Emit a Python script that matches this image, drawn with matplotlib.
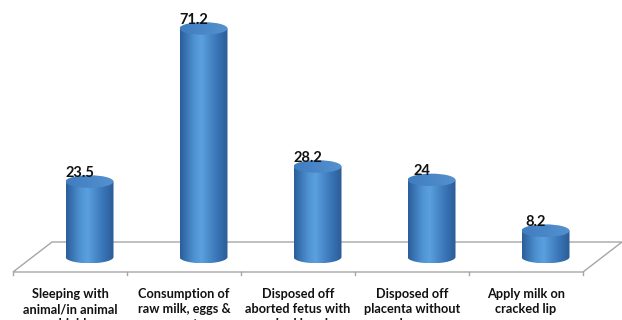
import numpy as np
import matplotlib.pyplot as plt
from matplotlib.patches import Polygon, Ellipse, PathPatch
from matplotlib.path import Path
from matplotlib.colors import LinearSegmentedColormap

categories = [
    "Sleeping with\nanimal/in animal\nshield",
    "Consumption of\nraw milk, eggs &\nmeat",
    "Disposed off\naborted fetus with\nnaked hands",
    "Disposed off\nplacenta without\ngloves",
    "Apply milk on\ncracked lip",
]
values = [23.5, 71.2, 28.2, 24, 8.2]

W, H = 622, 320
fig = plt.figure(figsize=(W / 100, H / 100), dpi=100)
ax = fig.add_axes([0, 0, 1, 1])

# pixel scale of one category slot / one value unit
sx, sy = 114.0, 3.21
x0_px, y0_px = 70.0, 272.0
n = len(values)

depth_x, depth_y = 39 / sx, 30 / sy
grey = "#a6a6a6"
fonts = ["Lato", "DejaVu Sans"]

# floor of the 3d chart
front_l, front_r = -0.5, n - 0.5
floor = [(front_l, 0), (front_r, 0), (front_r + depth_x, depth_y), (front_l + depth_x, depth_y)]
ax.add_patch(Polygon(floor, closed=True, fill=False, ec=grey, lw=1, zorder=1))
for i in range(n + 1):
    ax.plot([i - 0.5, i - 0.5], [0, -3 / sy], color=grey, lw=1, zorder=1)

body_cmap = LinearSegmentedColormap.from_list(
    "body", [(0, "#2a5d9a"), (0.3, "#4f93d3"), (0.45, "#5ba0de"), (0.75, "#3b78ba"), (1, "#2b5c97")])
top_cmap = LinearSegmentedColormap.from_list("top", ["#3f7dc0", "#5591cf"])
grad = np.linspace(0, 1, 256).reshape(1, -1)

cw = 24 / sx
eh = 6.3 / sy
for i, v in enumerate(values):
    cx = i + depth_x / 2
    yb = depth_y / 2
    yt = yb + v
    t = np.linspace(np.pi, 2 * np.pi, 60)
    verts = [(cx - cw, yt), (cx - cw, yb)]
    verts += list(zip(cx + cw * np.cos(t), yb + eh * np.sin(t)))
    verts += [(cx + cw, yt), (cx - cw, yt)]
    body = PathPatch(Path(verts, closed=True), fc="none", ec="none")
    ax.add_patch(body)
    im = ax.imshow(grad, extent=[cx - cw, cx + cw, yb - eh, yt], aspect="auto",
                   cmap=body_cmap, zorder=2, interpolation="bilinear")
    im.set_clip_path(body)

    top = Ellipse((cx, yt), 2 * cw, 2 * eh, fc="none", ec="none")
    ax.add_patch(top)
    im2 = ax.imshow(grad, extent=[cx - cw, cx + cw, yt - eh, yt + eh], aspect="auto",
                    cmap=top_cmap, zorder=3, interpolation="bilinear")
    im2.set_clip_path(top)

    ax.text(cx - 10 / sx, yt + eh - 1.5 / sy, f"{v:g}", ha="center", va="baseline",
            fontsize=10.5, fontweight="bold", family=fonts,
            color="#111111", zorder=4)

for i, lab in enumerate(categories):
    ax.text(i, -16 / sy, lab, ha="center", va="top", fontsize=9.2, fontweight="bold",
            family=fonts, linespacing=1.3, color="#111111")

ax.set_xlim(-x0_px / sx, (W - x0_px) / sx)
ax.set_ylim(-(H - y0_px) / sy, y0_px / sy)
ax.axis("off")

fig.savefig("out.png", dpi=100)
